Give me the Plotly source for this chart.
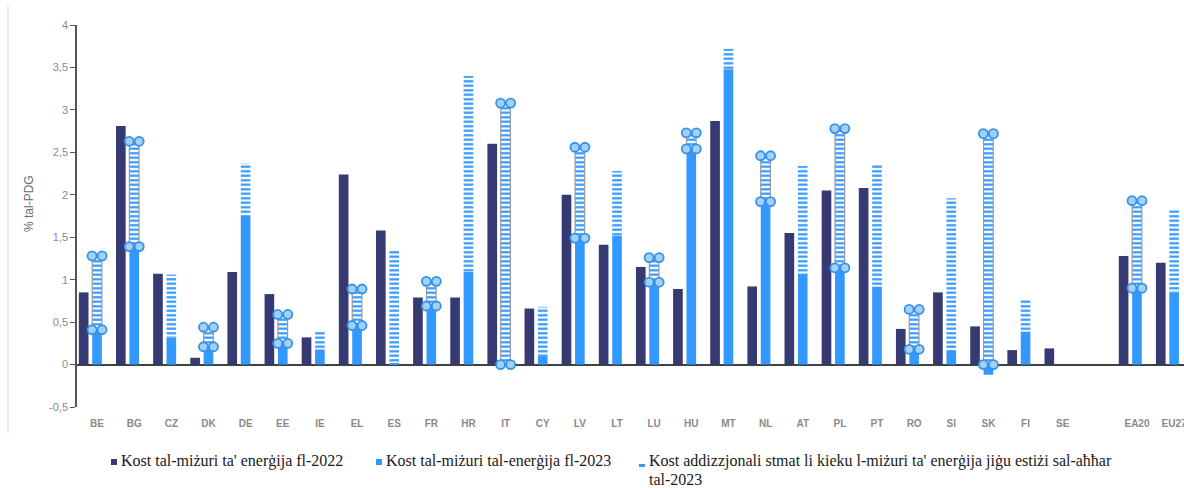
import plotly.graph_objects as go

# ---------------- data ----------------
categories = ["BE", "BG", "CZ", "DK", "DE", "EE", "IE", "EL", "ES", "FR", "HR", "IT", "CY", "LV", "LT",
              "LU", "HU", "MT", "NL", "AT", "PL", "PT", "RO", "SI", "SK", "FI", "SE", "", "EA20", "EU27"]
cost_2022 = [0.85, 2.81, 1.07, 0.08, 1.09, 0.83, 0.32, 2.24, 1.58, 0.79, 0.79, 2.60, 0.66, 2.00, 1.41,
             1.15, 0.89, 2.87, 0.92, 1.55, 2.05, 2.08, 0.42, 0.85, 0.45, 0.17, 0.19, None, 1.28, 1.20]
cost_2023 = [0.41, 1.39, 0.32, 0.21, 1.75, 0.25, 0.18, 0.46, 0.02, 0.69, 1.09, 0.00, 0.10, 1.49, 1.52,
             0.97, 2.54, 3.48, 1.92, 1.07, 1.14, 0.92, 0.18, 0.17, -0.12, 0.39, 0.00, None, 0.90, 0.85]
extra_2023 = [0.87, 1.24, 0.74, 0.23, 0.62, 0.34, 0.22, 0.43, 1.34, 0.29, 2.31, 3.08, 0.58, 1.07, 0.76,
              0.29, 0.19, 0.24, 0.54, 1.27, 1.64, 1.43, 0.47, 1.79, 2.72, 0.38, 0.00, None, 1.03, 0.97]
range_marked = ["BE", "BG", "DK", "EE", "EL", "FR", "IT", "LV", "LU", "HU", "NL", "PL", "RO", "SK", "EA20"]
y_ticks = [-0.5, 0, 0.5, 1, 1.5, 2, 2.5, 3, 3.5, 4]
y_tick_labels = ["-0,5", "0", "0,5", "1", "1,5", "2", "2,5", "3", "3,5", "4"]
legend_names = ["Kost tal-miżuri ta' enerġija fl-2022",
                "Kost tal-miżuri tal-enerġija fl-2023",
                "Kost addizzjonali stmat li kieku l-miżuri ta' enerġija jiġu estiżi sal-aħħar",
                "tal-2023"]

# ---------------- styling / geometry ----------------
W, H = 1184, 488
L, T, B, R = 77, 25, 81, 0
DARK = "#353A73"
LIGHT = "#3399FF"
BW = 0.26

xs = list(range(len(categories)))
tick_x = [x for x, c in zip(xs, categories) if c]
tick_t = [c for c in categories if c]

extra_base = [None if v is None else max(v, 0) for v in cost_2023]
marked = [c in range_marked for c in categories]

fig = go.Figure()

fig.add_trace(go.Bar(x=xs, y=cost_2022, width=BW, offset=-0.49,
                     marker=dict(color=DARK, line=dict(width=0)), name=legend_names[0],
                     showlegend=False))
fig.add_trace(go.Bar(x=xs, y=cost_2023, width=BW, offset=-BW / 2,
                     marker=dict(color=LIGHT, line=dict(width=0)), name=legend_names[1],
                     showlegend=False))
fig.add_trace(go.Bar(x=xs, y=extra_2023, base=extra_base, width=BW, offset=-BW / 2,
                     marker=dict(color="white",
                                 pattern=dict(shape="-", fgcolor=LIGHT, bgcolor="white",
                                              size=4.5, solidity=0.5),
                                 line=dict(color=["#9a9a9a" if m else "rgba(0,0,0,0)" for m in marked],
                                           width=[1.2 if m else 0 for m in marked])),
                     name=legend_names[2] + " " + legend_names[3], showlegend=False))

# dumbbell end markers
cx, cy = [], []
for x, c, b, e in zip(xs, categories, extra_base, extra_2023):
    if c in range_marked:
        cx += [x, x]
        cy += [b, b + e]
dx = 0.135
for sgn in (-1, 1):
    fig.add_trace(go.Scatter(x=[x + sgn * dx for x in cx], y=cy, mode="markers",
                             marker=dict(size=9, color="#a6cff4",
                                         line=dict(color="#3493ec", width=1.8)),
                             showlegend=False, hoverinfo="skip"))

x_left = -0.54
x_right = x_left + (W - L - R) / 37.14

fig.update_layout(
    width=W, height=H, margin=dict(l=L, r=R, t=T, b=B),
    paper_bgcolor="white", plot_bgcolor="white", template="none",
    barmode="overlay", showlegend=False,
    font=dict(family="Liberation Sans", color="#7f7f7f"),
    xaxis=dict(range=[x_left, x_right], tickvals=tick_x, ticktext=tick_t, showline=False,
               showgrid=False, zeroline=False, ticks="", automargin=False,
               ticklabeloverflow="allow",
               tickfont=dict(family="Liberation Sans", size=10, color="#8a8a8a", weight="bold"),
               ticklabelstandoff=9),
    yaxis=dict(range=[-0.5, 4], tickvals=y_ticks, ticktext=y_tick_labels, showline=True,
               linecolor="#555555", linewidth=1.5, ticks="outside", ticklen=5, tickcolor="#555555",
               tickwidth=1.3, showgrid=False, zeroline=True, zerolinecolor="#404040",
               zerolinewidth=1.5, automargin=False,
               tickfont=dict(family="Liberation Sans", size=11, color="#8a8a8a")),
)


def px(xp):
    return (xp - L) / (W - L - R)


def py(yp):
    return (H - B - yp) / (H - B - T)


# y-axis title
fig.add_annotation(x=px(29), y=py(204), xref="paper", yref="paper", text="% tal-PDG",
                   textangle=-90, showarrow=False, xanchor="center", yanchor="middle",
                   font=dict(family="Liberation Sans", size=12, color="#6a6a6a"))

# left border line of the original picture
fig.add_shape(type="line", xref="paper", yref="paper", x0=px(8), x1=px(8), y0=py(6), y1=py(433),
              line=dict(color="#d4d4d4", width=1))

# legend
lf = dict(family="Liberation Serif", size=16, color="#1a1a1a")
fig.add_shape(type="rect", xref="paper", yref="paper", x0=px(111), x1=px(117), y0=py(459), y1=py(465),
              fillcolor=DARK, line=dict(width=0))
fig.add_annotation(x=px(119), y=py(461), xref="paper", yref="paper", text=legend_names[0],
                   showarrow=False, xanchor="left", yanchor="middle", font=lf)
fig.add_shape(type="rect", xref="paper", yref="paper", x0=px(376), x1=px(382), y0=py(459), y1=py(465),
              fillcolor=LIGHT, line=dict(width=0))
fig.add_annotation(x=px(384), y=py(461), xref="paper", yref="paper", text=legend_names[1],
                   showarrow=False, xanchor="left", yanchor="middle", font=lf)
fig.add_shape(type="rect", xref="paper", yref="paper", x0=px(639), x1=px(645), y0=py(464), y1=py(467),
              fillcolor=LIGHT, line=dict(width=0))
fig.add_annotation(x=px(647), y=py(461), xref="paper", yref="paper", text=legend_names[2],
                   showarrow=False, xanchor="left", yanchor="middle", font=lf)
fig.add_annotation(x=px(647), y=py(479.5), xref="paper", yref="paper", text=legend_names[3],
                   showarrow=False, xanchor="left", yanchor="middle", font=lf)

fig.write_html("out.html")
